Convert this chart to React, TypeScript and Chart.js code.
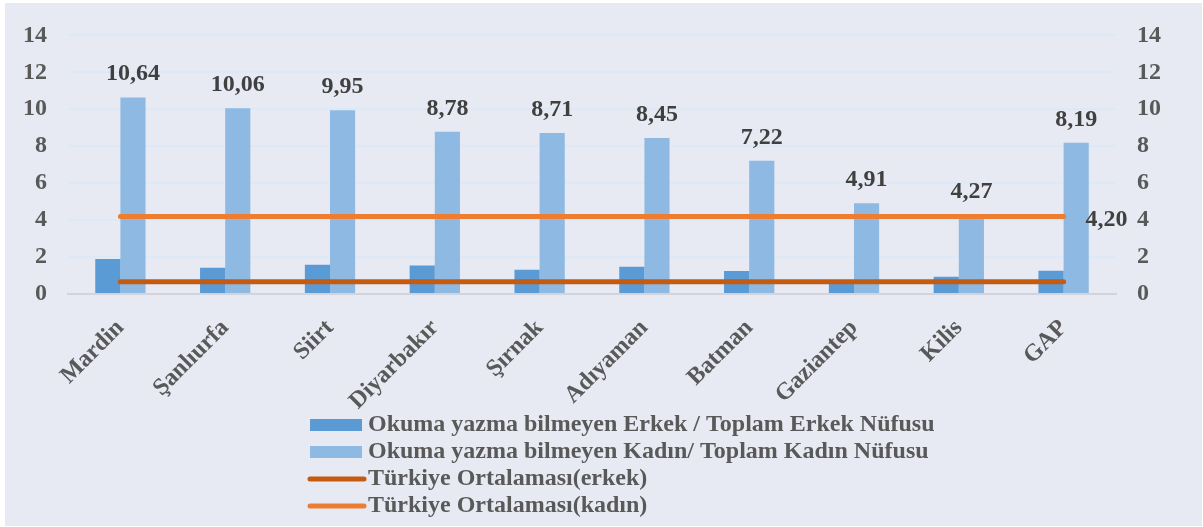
import React, { useEffect, useRef } from "react";
import { Chart, registerables } from "chart.js";

Chart.register(...registerables);

const categories = ["Mardin", "Şanlıurfa", "Siirt", "Diyarbakır", "Şırnak", "Adıyaman", "Batman", "Gaziantep", "Kilis", "GAP"];
const maleValues = [1.9, 1.42, 1.58, 1.54, 1.31, 1.47, 1.24, 0.7, 0.94, 1.26];
const femaleValues = [10.64, 10.06, 9.95, 8.78, 8.71, 8.45, 7.22, 4.91, 4.27, 8.19];
const trMaleAvg = [0.66, 0.66, 0.66, 0.66, 0.66, 0.66, 0.66, 0.66, 0.66, 0.66];
const trFemaleAvg = [4.2, 4.2, 4.2, 4.2, 4.2, 4.2, 4.2, 4.2, 4.2, 4.2];
const yTicks = [0, 2, 4, 6, 8, 10, 12, 14];
const seriesLabels = [
  "Okuma yazma bilmeyen Erkek / Toplam Erkek Nüfusu",
  "Okuma yazma bilmeyen Kadın/ Toplam Kadın Nüfusu",
  "Türkiye Ortalaması(erkek)",
  "Türkiye Ortalaması(kadın)",
];

const FONT = "'Liberation Serif', 'Times New Roman', serif";
const W = 1203;
const H = 527;

const fmt = (v: number) => v.toFixed(2).replace(".", ",");

const bgPlugin = {
  id: "bg",
  beforeDraw(chart: any) {
    const c = chart.ctx;
    c.save();
    c.fillStyle = "#ffffff";
    c.fillRect(0, 0, W, H);
    c.fillStyle = "#e8eaf3";
    c.fillRect(5, 3, W - 6, H - 4);
    c.restore();
  },
};

const labelsPlugin = {
  id: "valueLabels",
  afterDatasetsDraw(chart: any) {
    const c = chart.ctx;
    c.save();
    c.font = `bold 24px ${FONT}`;
    c.fillStyle = "#404040";
    c.textAlign = "center";
    c.textBaseline = "alphabetic";
    const meta = chart.getDatasetMeta(1);
    meta.data.forEach((bar: any, i: number) => {
      c.fillText(fmt(femaleValues[i]), bar.x, bar.y - 17);
    });
    const lmeta = chart.getDatasetMeta(3);
    const last = lmeta.data[lmeta.data.length - 1];
    c.textAlign = "left";
    c.fillText(fmt(trFemaleAvg[trFemaleAvg.length - 1]), last.x + 22, last.y + 10);
    c.restore();
  },
};

const legendPlugin = {
  id: "customLegend",
  afterDraw(chart: any) {
    const c = chart.ctx;
    c.save();
    c.font = `bold 24px ${FONT}`;
    c.textBaseline = "alphabetic";
    c.textAlign = "left";
    const rows = [425, 452, 479, 506];
    chart.data.datasets.forEach((ds: any, i: number) => {
      const y = rows[i];
      if (ds.type === "line") {
        c.strokeStyle = ds.borderColor;
        c.lineWidth = 5;
        c.lineCap = "round";
        c.beginPath();
        c.moveTo(310, y);
        c.lineTo(364, y);
        c.stroke();
      } else {
        c.fillStyle = ds.backgroundColor;
        c.fillRect(310, y - 6, 52, 12);
      }
      c.fillStyle = "#595959";
      c.fillText(ds.label, 368, y + 6);
    });
    c.restore();
  },
};

export default function App() {
  const ref = useRef<HTMLCanvasElement>(null);
  useEffect(() => {
    if (!ref.current) return;
    const tickFont = { family: FONT, size: 24, weight: "bold" as const };
    const chart = new Chart(ref.current, {
      type: "bar",
      data: {
        labels: categories,
        datasets: [
          { type: "bar", label: seriesLabels[0], data: maleValues, backgroundColor: "#5b9bd5", yAxisID: "y", order: 1, categoryPercentage: 0.48, barPercentage: 1 } as any,
          { type: "bar", label: seriesLabels[1], data: femaleValues, backgroundColor: "#8db9e2", yAxisID: "y", order: 1, categoryPercentage: 0.48, barPercentage: 1 } as any,
          { type: "line", label: seriesLabels[2], data: trMaleAvg, borderColor: "#c55a11", backgroundColor: "#c55a11", borderWidth: 5, borderCapStyle: "round", pointRadius: 0, yAxisID: "y", order: 0 } as any,
          { type: "line", label: seriesLabels[3], data: trFemaleAvg, borderColor: "#ed7d31", backgroundColor: "#ed7d31", borderWidth: 5, borderCapStyle: "round", pointRadius: 0, yAxisID: "y", order: 0 } as any,
        ],
      },
      options: {
        responsive: false,
        animation: false,
        devicePixelRatio: 1,
        layout: { padding: { top: 32, left: 0, right: 0, bottom: 0 } },
        plugins: { legend: { display: false }, tooltip: { enabled: false } },
        scales: {
          x: {
            grid: { display: false, drawTicks: false },
            border: { display: true, color: "#d3d4db", width: 2 },
            ticks: { font: tickFont, color: "#595959", minRotation: 45, maxRotation: 45, padding: 20, autoSkip: false },
            afterFit: (s: any) => { s.height = H - 294; },
          },
          y: {
            position: "left",
            min: 0,
            max: 14,
            afterBuildTicks: (s: any) => { s.ticks = yTicks.map((v) => ({ value: v })); },
            grid: { color: (ctx: any) => (ctx.tick && ctx.tick.value === 0 ? "rgba(0,0,0,0)" : "#dde9f6"), lineWidth: 2, drawTicks: false },
            border: { display: false },
            ticks: { font: tickFont, color: "#595959", padding: 21 },
            afterFit: (s: any) => { s.width = 68; },
          },
          y2: {
            position: "right",
            min: 0,
            max: 14,
            afterBuildTicks: (s: any) => { s.ticks = yTicks.map((v) => ({ value: v })); },
            grid: { display: false, drawTicks: false },
            border: { display: false },
            ticks: { font: tickFont, color: "#595959", padding: 21 },
            afterFit: (s: any) => { s.width = W - 1116; },
          },
        },
      } as any,
      plugins: [bgPlugin, labelsPlugin, legendPlugin],
    });
    return () => chart.destroy();
  }, []);
  return (
    <div style={{ position: "fixed", left: 0, top: 0, width: W, height: H }}>
      <canvas ref={ref} width={W} height={H} style={{ display: "block", width: W, height: H }} />
    </div>
  );
}
